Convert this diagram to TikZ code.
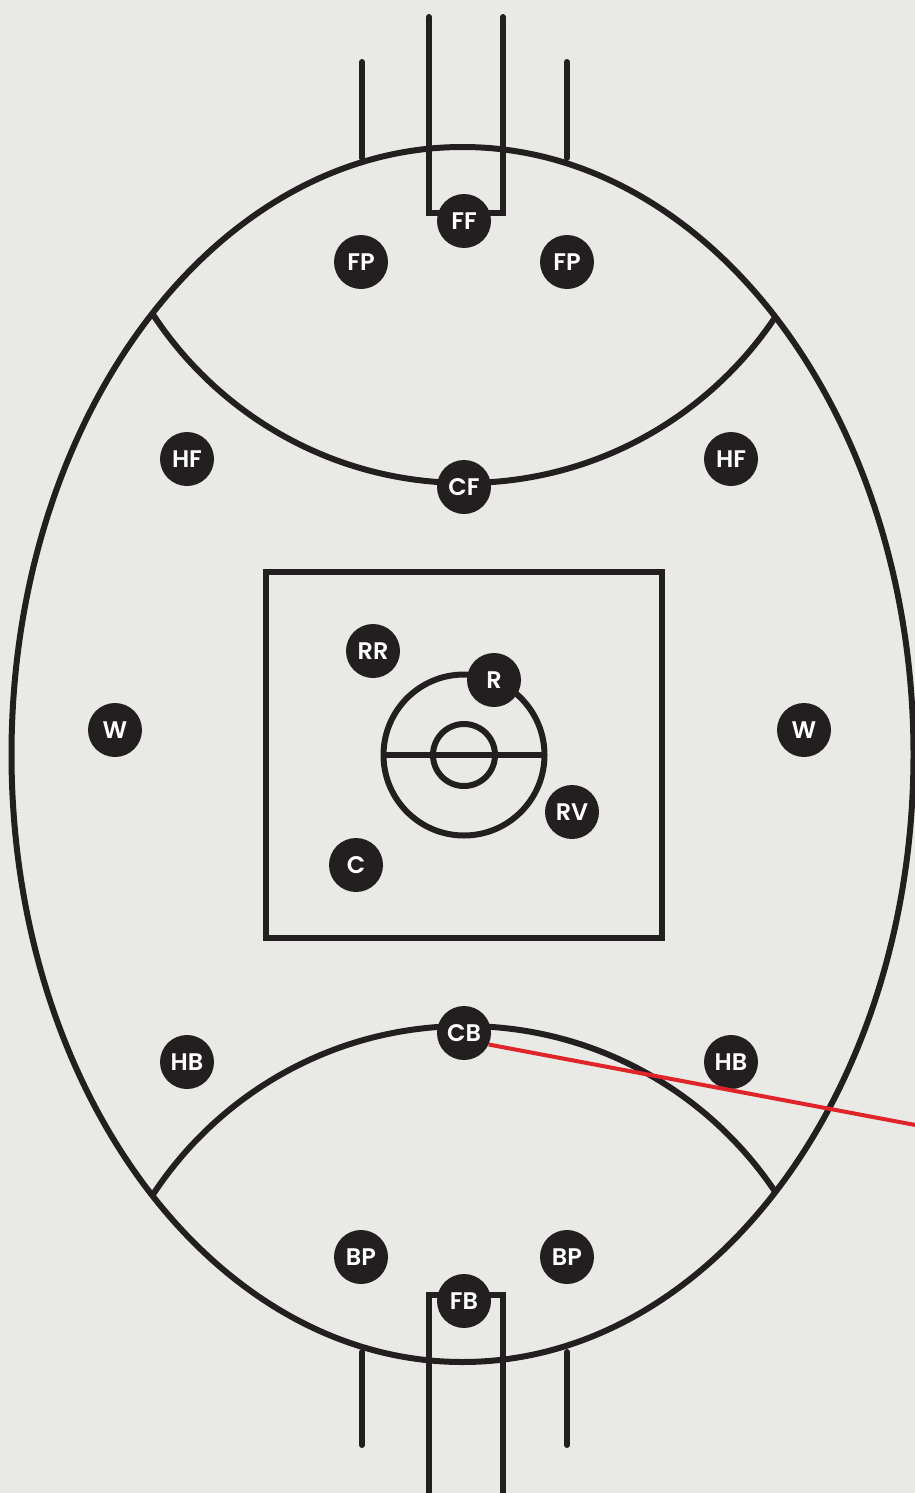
\documentclass[tikz,border=0pt]{standalone}
\usepackage{fontspec}
\setmainfont{Poppins}[BoldFont={Poppins SemiBold}]
\definecolor{bg}{HTML}{E9EAE5}
\definecolor{ink}{HTML}{231F20}
\definecolor{redline}{HTML}{E0242A}
\begin{document}
\begin{tikzpicture}[x=1pt,y=-1pt,
  field/.style={draw=ink,line width=6pt},
  post/.style={draw=ink,line width=6pt,line cap=round},
  player/.style={circle,fill=ink,minimum size=54pt,inner sep=0pt,text=white,font=\bfseries\fontsize{24}{24}\selectfont}]
\fill[bg] (0,0) rectangle (915,1493);
\useasboundingbox (0,0) rectangle (915,1493);
% goal posts top
\draw[post] (362,62) -- (362,158);
\draw[post] (567,62) -- (567,158);
\draw[field,line cap=round] (429,17) -- (429,213) -- (503,213) -- (503,17);
% goal posts bottom
\draw[post] (362,1352) -- (362,1445);
\draw[post] (567,1352) -- (567,1445);
\draw[field] (429,1500) -- (429,1295) -- (503,1295) -- (503,1500);
% oval
\draw[field] (462.5,754.5) ellipse [x radius=451, y radius=607.5];
% 50m arcs
\begin{scope}
  \clip (462.5,754.5) ellipse [x radius=451, y radius=607.5];
  \draw[field] (465,110) circle [radius=373];
  \draw[field] (465,1399) circle [radius=373];
\end{scope}
% centre square and circles
\draw[field] (266,572) rectangle (662,938);
\draw[field] (464,755) circle [radius=80.5];
\draw[field] (464,755) circle [radius=31];
\draw[field] (384,755) -- (545,755);
% players
\node[player] (FF) at (464,221) {FF};
\node[player] (FPl) at (361,262) {FP};
\node[player] (FPr) at (567,262) {FP};
\node[player] (HFl) at (187,459) {HF};
\node[player] (HFr) at (731,459) {HF};
\node[player] (CF) at (464,487) {CF};
\node[player] (RR) at (373,651) {RR};
\node[player] (R) at (494,680) {R};
\node[player] (Wl) at (115,730) {W};
\node[player] (Wr) at (804,730) {W};
\node[player] (RV) at (572,812) {RV};
\node[player] (C) at (356,865) {C};
\node[player] (HBl) at (187,1062) {HB};
\node[player] (HBr) at (731,1062) {HB};
\node[player] (BPl) at (361,1257) {BP};
\node[player] (BPr) at (567,1257) {BP};
\node[player] (FB) at (464,1301) {FB};
\node[player] (CB) at (464,1033) {CB};
% red line
\coordinate (redend) at (918,1125.5);
\draw[redline,line width=4pt] (CB.-25) -- (redend);
\end{tikzpicture}
\end{document}
